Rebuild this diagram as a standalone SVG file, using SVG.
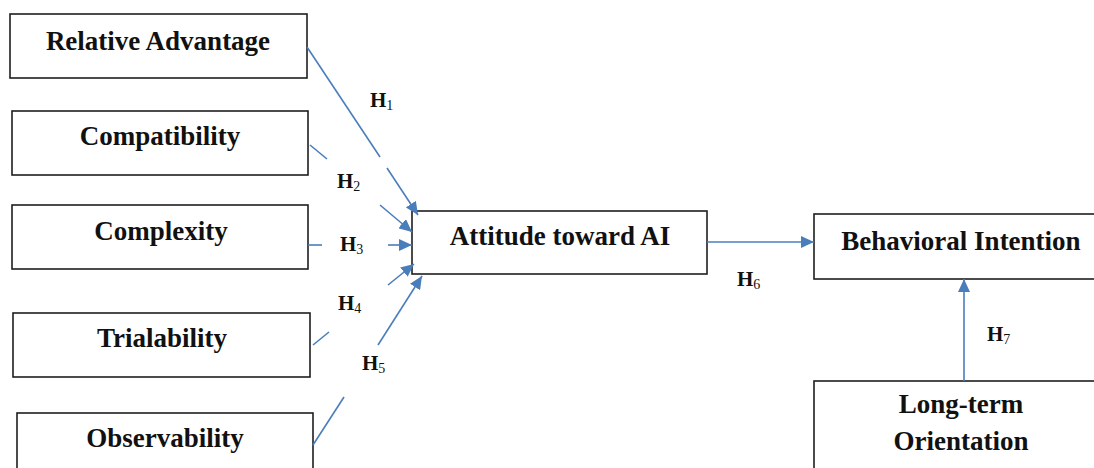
<svg xmlns="http://www.w3.org/2000/svg" width="1094" height="468" viewBox="0 0 1094 468">
  <style>
    .box { fill: #ffffff; stroke: #1e1e1e; stroke-width: 1.6; }
    .lbl { font-family: "Liberation Serif", "Times New Roman", serif; font-weight: bold; font-size: 27px; fill: #111111; text-anchor: middle; }
    .hyp { font-family: "Liberation Serif", "Times New Roman", serif; font-weight: bold; font-size: 21px; fill: #111111; }
    .sub { font-size: 14px; font-weight: normal; }
    .link { stroke: #4a7ebb; stroke-width: 1.6; fill: none; }
  </style>
  <defs>
    <marker id="arrow" markerUnits="userSpaceOnUse" markerWidth="14" markerHeight="12" refX="13" refY="6" orient="auto">
      <path d="M0,0 L13,6 L0,12 z" fill="#4a7ebb"/>
    </marker>
  </defs>

  <rect width="1094" height="468" fill="#ffffff"/>

  <!-- Constructs -->
  <g id="relative-advantage">
    <rect class="box" x="10" y="14" width="297" height="64"/>
    <text class="lbl" x="158" y="50">Relative Advantage</text>
  </g>
  <g id="compatibility">
    <rect class="box" x="12" y="111" width="296" height="64"/>
    <text class="lbl" x="160" y="145">Compatibility</text>
  </g>
  <g id="complexity">
    <rect class="box" x="12" y="205" width="296" height="64"/>
    <text class="lbl" x="161" y="240">Complexity</text>
  </g>
  <g id="trialability">
    <rect class="box" x="13" y="313" width="297" height="64"/>
    <text class="lbl" x="162" y="347">Trialability</text>
  </g>
  <g id="observability">
    <rect class="box" x="17" y="413" width="296" height="70"/>
    <text class="lbl" x="165" y="447">Observability</text>
  </g>
  <g id="attitude">
    <rect class="box" x="412" y="211" width="295" height="63"/>
    <text class="lbl" x="560" y="245">Attitude toward AI</text>
  </g>
  <g id="behavioral-intention">
    <rect class="box" x="814" y="214" width="295" height="65"/>
    <text class="lbl" x="961" y="250">Behavioral Intention</text>
  </g>
  <g id="long-term-orientation">
    <rect class="box" x="814" y="381" width="295" height="100"/>
    <text class="lbl" x="961" y="413">Long-term</text>
    <text class="lbl" x="961" y="450">Orientation</text>
  </g>

  <!-- Hypothesised paths -->
  <g id="connectors">
    <line class="link" x1="307" y1="47" x2="380" y2="157"/>
    <line class="link" x1="387" y1="168" x2="418" y2="215" marker-end="url(#arrow)"/>

    <line class="link" x1="310" y1="145" x2="327" y2="159"/>
    <line class="link" x1="380" y1="205" x2="412" y2="232" marker-end="url(#arrow)"/>

    <line class="link" x1="308" y1="245" x2="322" y2="245"/>
    <line class="link" x1="388" y1="245" x2="412" y2="245" marker-end="url(#arrow)"/>

    <line class="link" x1="313" y1="345" x2="329" y2="332"/>
    <line class="link" x1="388" y1="285" x2="414" y2="264" marker-end="url(#arrow)"/>

    <line class="link" x1="313" y1="445" x2="344" y2="397"/>
    <line class="link" x1="378" y1="345" x2="422" y2="276" marker-end="url(#arrow)"/>

    <line class="link" x1="707" y1="242" x2="814" y2="242" marker-end="url(#arrow)"/>
    <line class="link" x1="964" y1="381" x2="964" y2="279" marker-end="url(#arrow)"/>
  </g>

  <!-- Path labels -->
  <g id="labels">
    <text class="hyp" x="370" y="107">H<tspan class="sub" dy="3">1</tspan></text>
    <text class="hyp" x="337" y="188">H<tspan class="sub" dy="3">2</tspan></text>
    <text class="hyp" x="340" y="251">H<tspan class="sub" dy="3">3</tspan></text>
    <text class="hyp" x="338" y="310">H<tspan class="sub" dy="3">4</tspan></text>
    <text class="hyp" x="362" y="370">H<tspan class="sub" dy="3">5</tspan></text>
    <text class="hyp" x="737" y="286">H<tspan class="sub" dy="3">6</tspan></text>
    <text class="hyp" x="987" y="341">H<tspan class="sub" dy="3">7</tspan></text>
  </g>
</svg>
